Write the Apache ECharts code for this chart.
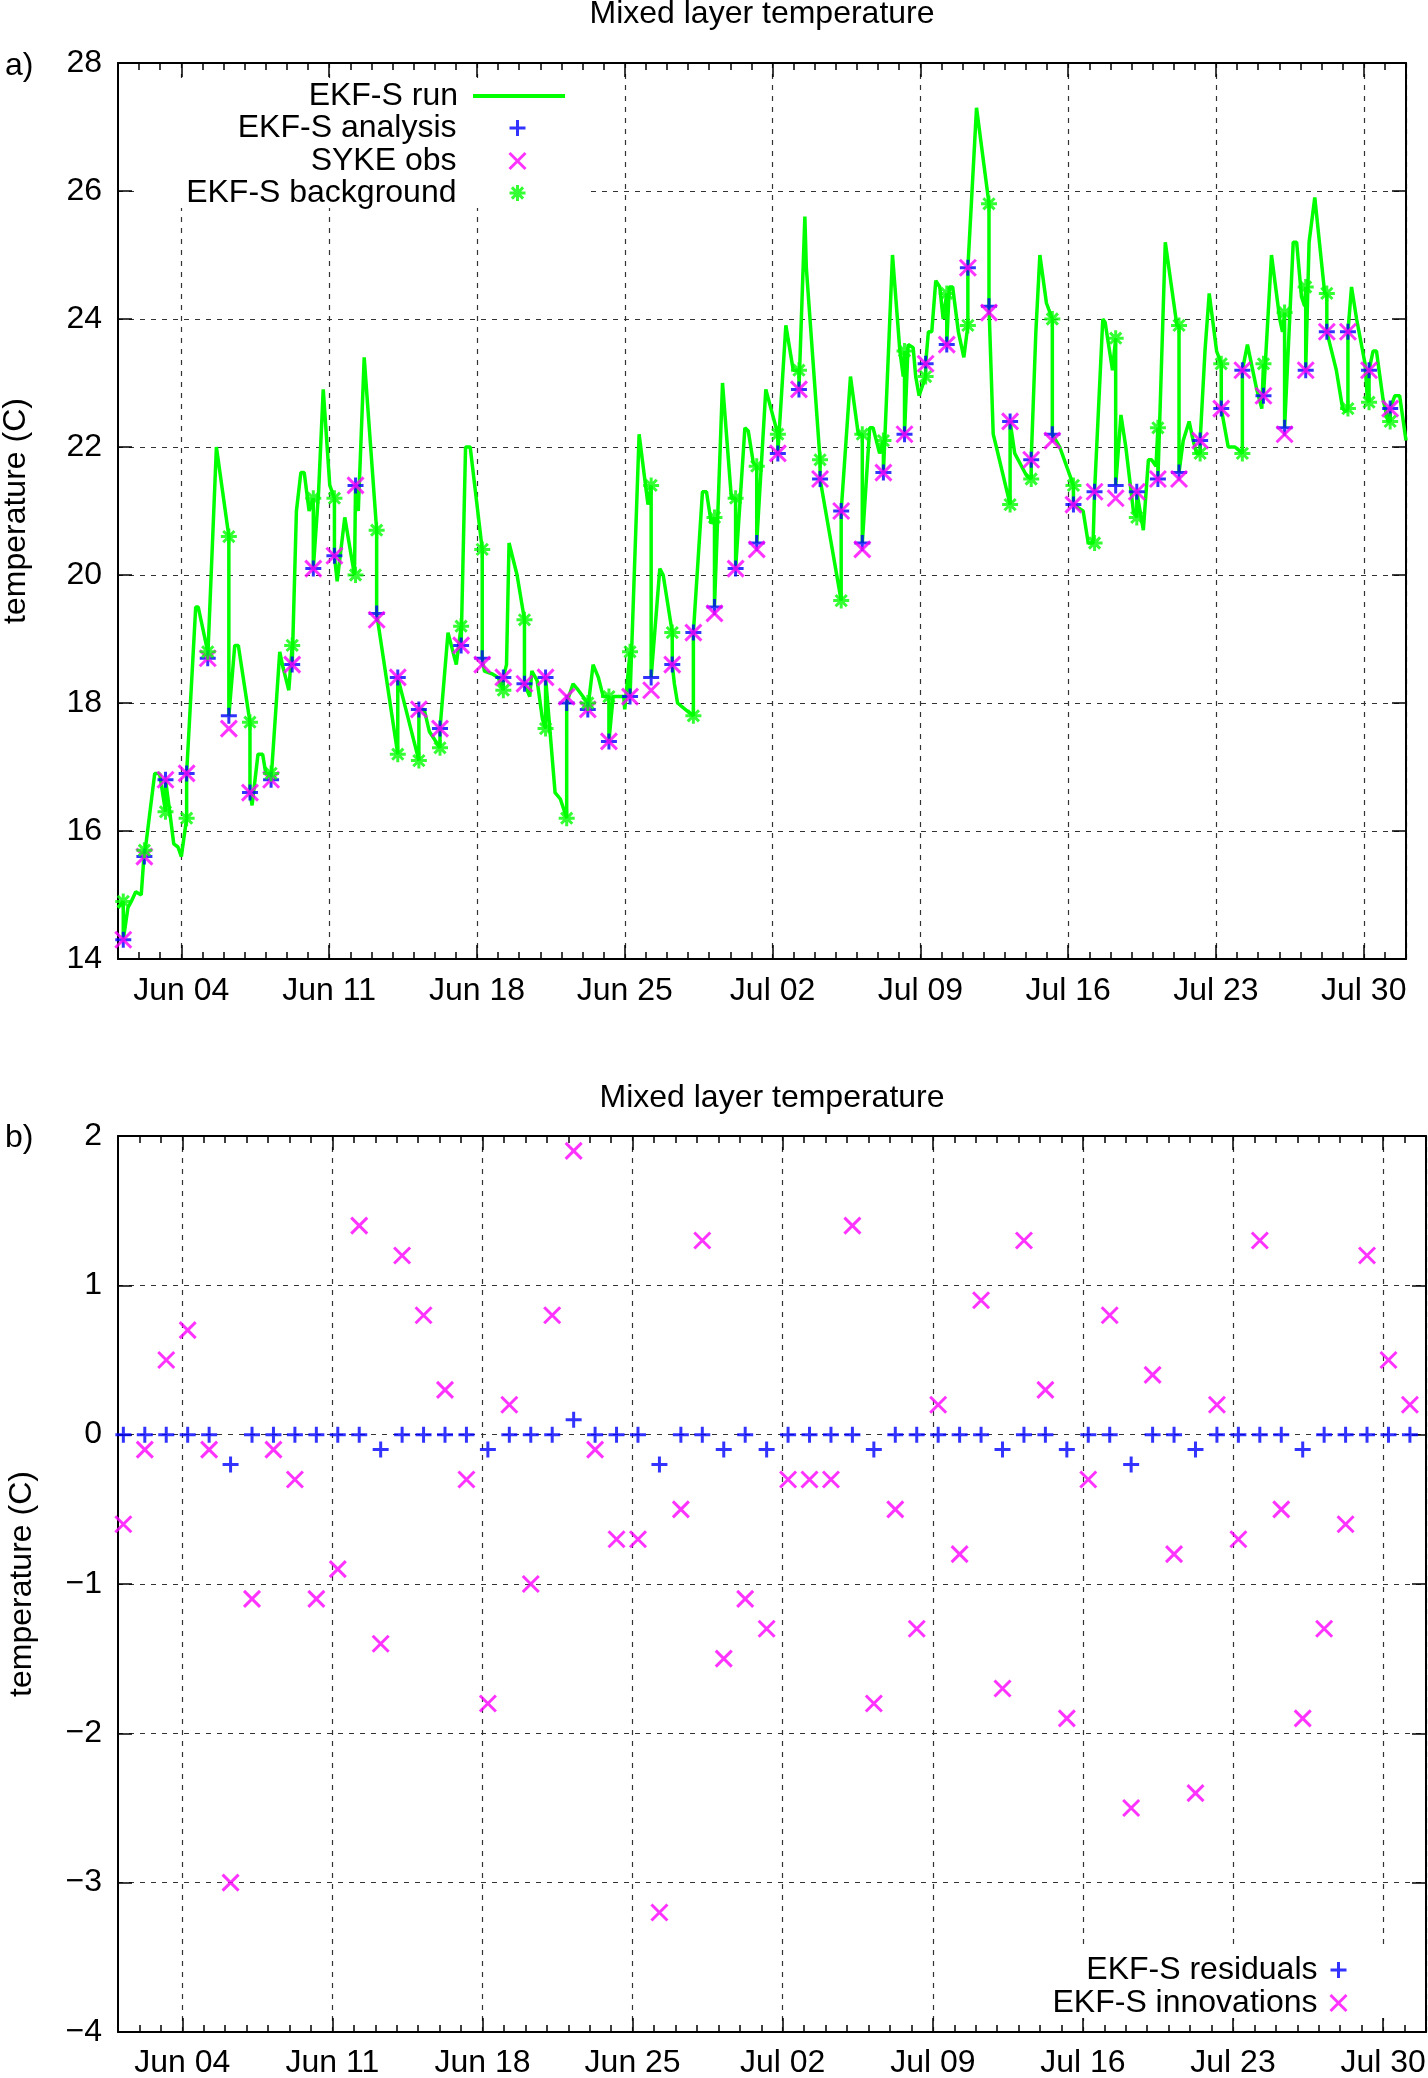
<!DOCTYPE html>
<html>
<head>
<meta charset="UTF-8">
<title>Mixed layer temperature</title>
<script type="text/javascript" src="https://cdn.jsdelivr.net/npm/echarts@6.0.0/dist/echarts.min.js"></script>
<style>
  html, body { margin: 0; padding: 0; background: #fff; }
</style>
</head>
<body>
<div id="chart" style="width:1428px;height:2078px"></div>
<script type="text/javascript">
// days counted from Jun 01 00:00
var weekLabels = ['Jun 04', 'Jun 11', 'Jun 18', 'Jun 25', 'Jul 02', 'Jul 09', 'Jul 16', 'Jul 23', 'Jul 30'];

var obsTime = [0.25, 1.25, 2.25, 3.25, 4.25, 5.25, 6.25, 7.25, 8.25, 9.25,
  10.25, 11.25, 12.25, 13.25, 14.25, 15.25, 16.25, 17.25, 18.25, 19.25,
  20.25, 21.25, 22.25, 23.25, 24.25, 25.25, 26.25, 27.25, 28.25, 29.25,
  30.25, 31.25, 32.25, 33.25, 34.25, 35.25, 36.25, 37.25, 38.25, 39.25,
  40.25, 41.25, 42.25, 43.25, 44.25, 45.25, 46.25, 47.25, 48.25, 49.25,
  50.25, 51.25, 52.25, 53.25, 54.25, 55.25, 56.25, 57.25, 58.25, 59.25, 60.25];

var obsTemp = [14.3, 15.6, 16.8, 16.9, 18.7, 17.6, 16.6, 16.8, 18.6, 20.1,
  20.3, 21.4, 19.3, 18.4, 17.9, 17.6, 18.9, 18.6, 18.4, 18.3,
  18.4, 18.1, 17.9, 17.4, 18.1, 18.2, 18.6, 19.1, 19.4, 20.1,
  20.4, 21.9, 22.9, 21.5, 21.0, 20.4, 21.6, 22.2, 23.3, 23.6,
  24.8, 24.1, 22.4, 21.8, 22.1, 21.1, 21.3, 21.2, 21.3, 21.5,
  21.5, 22.1, 22.6, 23.2, 22.8, 22.2, 23.2, 23.8, 23.8, 23.2, 22.6];

var anaTemp = [14.3, 15.6, 16.8, 16.9, 18.7, 17.8, 16.6, 16.8, 18.6, 20.1,
  20.3, 21.4, 19.4, 18.4, 17.9, 17.6, 18.9, 18.7, 18.4, 18.3,
  18.4, 18.0, 17.9, 17.4, 18.1, 18.4, 18.6, 19.1, 19.5, 20.1,
  20.5, 21.9, 22.9, 21.5, 21.0, 20.5, 21.6, 22.2, 23.3, 23.6,
  24.8, 24.2, 22.4, 21.8, 22.2, 21.1, 21.3, 21.4, 21.3, 21.5,
  21.6, 22.1, 22.6, 23.2, 22.8, 22.3, 23.2, 23.8, 23.8, 23.2, 22.6];

var bgTemp = [14.9, 15.7, 16.3, 16.2, 18.8, 20.6, 17.7, 16.9, 18.9, 21.2,
  21.2, 20.0, 20.7, 17.2, 17.1, 17.3, 19.2, 20.4, 18.2, 19.3,
  17.6, 16.2, 18.0, 18.1, 18.8, 21.4, 19.1, 17.8, 20.9, 21.2,
  21.7, 22.2, 23.2, 21.8, 19.6, 22.2, 22.1, 23.5, 23.1, 24.4,
  23.9, 25.8, 21.1, 21.5, 24.0, 21.4, 20.5, 23.7, 20.9, 22.3,
  23.9, 21.9, 23.3, 21.9, 23.3, 24.1, 24.5, 24.4, 22.6, 22.7, 22.4];

var residuals = [0, 0, 0, 0, 0, -0.2, 0, 0, 0, 0,
  0, 0, -0.1, 0, 0, 0, 0, -0.1, 0, 0,
  0, 0.1, 0, 0, 0, -0.2, 0, 0, -0.1, 0,
  -0.1, 0, 0, 0, 0, -0.1, 0, 0, 0, 0,
  0, -0.1, 0, 0, -0.1, 0, 0, -0.2, 0, 0,
  -0.1, 0, 0, 0, 0, -0.1, 0, 0, 0, 0, 0];

var innovations = [-0.6, -0.1, 0.5, 0.7, -0.1, -3.0, -1.1, -0.1, -0.3, -1.1,
  -0.9, 1.4, -1.4, 1.2, 0.8, 0.3, -0.3, -1.8, 0.2, -1.0,
  0.8, 1.9, -0.1, -0.7, -0.7, -3.2, -0.5, 1.3, -1.5, -1.1,
  -1.3, -0.3, -0.3, -0.3, 1.4, -1.8, -0.5, -1.3, 0.2, -0.8,
  0.9, -1.7, 1.3, 0.3, -1.9, -0.3, 0.8, -2.5, 0.4, -0.8,
  -2.4, 0.2, -0.7, 1.3, -0.5, -1.9, -1.3, -0.6, 1.2, 0.5, 0.2];

// model run: [day, temperature]; at each obs time background then analysis
var runPoints = [
  [0.00, 14.8], [0.25, 14.9], [0.25, 14.3], [0.47, 14.8], [0.63, 14.9], [0.84, 15.05], [1.1, 15.0],
  [1.25, 15.7], [1.25, 15.6], [1.74, 16.9], [1.97, 16.9],
  [2.25, 16.3], [2.25, 16.8], [2.45, 16.3], [2.64, 15.8], [2.84, 15.75], [3.0, 15.6],
  [3.25, 16.2], [3.25, 16.9], [3.68, 19.5], [3.8, 19.5],
  [4.25, 18.8], [4.25, 18.7], [4.66, 22.0],
  [5.25, 20.6], [5.25, 17.8], [5.53, 18.9], [5.7, 18.9],
  [6.25, 17.7], [6.25, 16.6], [6.35, 16.4], [6.63, 17.2], [6.85, 17.2], [7.0, 16.9],
  [7.25, 16.9], [7.25, 16.8], [7.66, 18.8], [7.82, 18.55], [8.09, 18.2],
  [8.25, 18.9], [8.25, 18.6], [8.45, 21.0], [8.66, 21.6], [8.82, 21.6], [9.05, 21.0],
  [9.25, 21.2], [9.25, 20.1], [9.5, 21.3], [9.72, 22.9], [10.03, 21.4],
  [10.25, 21.2], [10.25, 20.3], [10.38, 19.9], [10.74, 20.9], [11.2, 20.0],
  [11.25, 20.0], [11.25, 21.4], [11.38, 21.0], [11.66, 23.4],
  [12.25, 20.7], [12.25, 19.4],
  [13.25, 17.2], [13.25, 18.4],
  [14.25, 17.1], [14.25, 17.9], [14.5, 17.9], [14.75, 17.55],
  [15.25, 17.3], [15.25, 17.6], [15.63, 19.1], [16.02, 18.6],
  [16.25, 19.2], [16.25, 18.9], [16.46, 22.0], [16.68, 22.0],
  [17.25, 20.4], [17.25, 18.7], [17.35, 18.5], [17.75, 18.45], [18.0, 18.4],
  [18.25, 18.2], [18.25, 18.4], [18.4, 18.6], [18.52, 20.5], [18.9, 20.0],
  [19.25, 19.3], [19.25, 18.3], [19.5, 18.1], [19.6, 18.5], [19.85, 18.35], [20.1, 17.75],
  [20.25, 17.6], [20.25, 18.4], [20.35, 18.0], [20.7, 16.6], [20.95, 16.5],
  [21.25, 16.2], [21.25, 18.0], [21.55, 18.3], [21.8, 18.2],
  [22.25, 18.0], [22.25, 17.9], [22.5, 18.6], [22.75, 18.4], [22.98, 18.1],
  [23.25, 18.1], [23.25, 17.4], [23.45, 18.1], [23.95, 18.1], [24.0, 17.9],
  [24.25, 18.8], [24.25, 18.1], [24.68, 22.2], [25.1, 21.1],
  [25.25, 21.4], [25.25, 18.4], [25.66, 20.1], [25.82, 20.0],
  [26.25, 19.1], [26.25, 18.6], [26.35, 18.3], [26.5, 18.0], [27.05, 17.85],
  [27.25, 17.8], [27.25, 19.1], [27.68, 21.3], [27.87, 21.3], [28.1, 20.8],
  [28.25, 20.9], [28.25, 19.5], [28.63, 23.0], [29.05, 21.2],
  [29.25, 21.2], [29.25, 20.1], [29.69, 22.3], [29.85, 22.25], [30.09, 21.75],
  [30.25, 21.7], [30.25, 20.5], [30.68, 22.9],
  [31.25, 22.2], [31.25, 21.9], [31.63, 23.9], [31.98, 23.2],
  [32.25, 23.2], [32.25, 22.9], [32.53, 25.6], [32.6, 24.8],
  [33.25, 21.8], [33.25, 21.5],
  [34.25, 19.6], [34.25, 21.0], [34.69, 23.1], [35.06, 22.2],
  [35.25, 22.2], [35.25, 20.5], [35.6, 22.3], [35.76, 22.3], [36.07, 21.9],
  [36.25, 22.1], [36.25, 21.6], [36.68, 25.0], [37.03, 23.5], [37.19, 23.1],
  [37.25, 23.5], [37.25, 22.2], [37.42, 23.6], [37.66, 23.55], [37.78, 23.1], [37.94, 22.8],
  [38.25, 23.1], [38.25, 23.3], [38.38, 23.8], [38.54, 23.8], [38.73, 24.6], [38.92, 24.5], [39.08, 24.0],
  [39.25, 24.4], [39.25, 23.6], [39.37, 24.5], [39.53, 24.5], [39.8, 23.8], [40.06, 23.4],
  [40.25, 23.9], [40.25, 24.8], [40.66, 27.3],
  [41.25, 25.8], [41.25, 24.2], [41.45, 22.2], [41.6, 22.0],
  [42.25, 21.1], [42.25, 22.4], [42.47, 21.9], [43.03, 21.55],
  [43.25, 21.5], [43.25, 21.8], [43.47, 23.8], [43.66, 25.0], [43.97, 24.25],
  [44.25, 24.0], [44.25, 22.2], [44.6, 22.0],
  [45.25, 21.4], [45.25, 21.1], [45.71, 21.0], [45.95, 20.5], [46.18, 20.5],
  [46.25, 20.5], [46.25, 21.3], [46.64, 24.0], [46.75, 23.95], [47.1, 23.2],
  [47.25, 23.7], [47.25, 21.4], [47.5, 22.5], [47.73, 22.0], [48.09, 21.0],
  [48.25, 20.9], [48.25, 21.3], [48.56, 20.7], [48.8, 21.8], [48.95, 21.8], [49.16, 21.7],
  [49.25, 22.3], [49.25, 21.5], [49.6, 25.2], [50.15, 23.9],
  [50.25, 23.9], [50.25, 21.6], [50.45, 22.1], [50.73, 22.4], [50.92, 22.1], [51.08, 21.9],
  [51.25, 21.9], [51.25, 22.1], [51.48, 23.5], [51.68, 24.4], [52.03, 23.5],
  [52.25, 23.3], [52.25, 22.6], [52.58, 22.0], [52.9, 22.0],
  [53.25, 21.9], [53.25, 23.2], [53.49, 23.6], [53.93, 22.9], [54.17, 22.6],
  [54.25, 23.3], [54.25, 22.8], [54.63, 25.0], [55.02, 24.0], [55.15, 23.8],
  [55.25, 24.1], [55.25, 22.3], [55.66, 25.2], [55.82, 25.2], [56.05, 24.35], [56.2, 24.2],
  [56.25, 24.5], [56.25, 23.2], [56.41, 25.2], [56.68, 25.9], [57.15, 24.4],
  [57.25, 24.4], [57.25, 23.8], [57.7, 23.2], [58.0, 22.6], [58.15, 22.55],
  [58.25, 22.6], [58.25, 23.8], [58.42, 24.5], [58.66, 24.0], [59.06, 23.3], [59.17, 22.75],
  [59.25, 22.7], [59.25, 23.2], [59.44, 23.5], [59.6, 23.5], [59.91, 22.75], [60.15, 22.4],
  [60.25, 22.4], [60.25, 22.6], [60.47, 22.8], [60.7, 22.8], [61.0, 22.1]
];

function pairs(xs, ys) {
  var out = [];
  for (var i = 0; i < xs.length; i++) out.push([xs[i], ys[i]]);
  return out;
}

var FONT = "'Liberation Sans', Arial, sans-serif";
var plusPath = 'path://M5,0L5,10M0,5L10,5';
var crossPath = 'path://M0,0L10,10M10,0L0,10';
var starPath = 'path://M5,0L5,10M0,5L10,5M1.5,1.5L8.5,8.5M8.5,1.5L1.5,8.5';
var gridDash = { color: '#333', width: 1.2, type: [5, 6] };

function weekLabel(v) {
  var idx = Math.round((v - 3) / 7);
  if (Math.abs(v - (3 + 7 * idx)) < 1e-6 && idx >= 0 && idx < weekLabels.length) return weekLabels[idx];
  return '';
}

// daily minor-tick axis (data axis)
function dayAxis(grid, pos) {
  return {
    type: 'value', gridIndex: grid, position: pos, min: 0, max: 61, interval: 1,
    axisLine: { show: true, onZero: false, lineStyle: { color: '#000', width: 2 } },
    axisTick: { show: true, inside: true, length: 7, lineStyle: { color: '#000', width: 1.5 } },
    axisLabel: { show: false }, splitLine: { show: false }
  };
}
// weekly major-tick axis, on a grid that starts at Jun 04
function weekAxis(grid, pos, labels, margin) {
  return {
    type: 'value', gridIndex: grid, position: pos, min: 3, max: 61, interval: 7,
    axisLine: { show: false, onZero: false },
    axisTick: { show: true, inside: true, length: 14, lineStyle: { color: '#000', width: 1.5 } },
    axisLabel: { show: labels, margin: margin, fontSize: 32, color: '#000', fontFamily: FONT,
      showMinLabel: true, showMaxLabel: false, formatter: weekLabel },
    splitLine: { show: labels, lineStyle: gridDash }
  };
}
function tempAxis(grid, pos, min, max, main, gap) {
  return {
    type: 'value', gridIndex: grid, position: pos, min: min, max: max, interval: (max - min > 6 ? 2 : 1),
    name: main ? 'temperature (C)' : '', nameLocation: 'middle', nameGap: gap, nameRotate: 90,
    nameTextStyle: { fontSize: 32, color: '#000', fontFamily: FONT },
    axisLine: { show: true, onZero: false, lineStyle: { color: '#000', width: 2 } },
    axisTick: { show: true, inside: true, length: 14, lineStyle: { color: '#000', width: 1.5 } },
    axisLabel: { show: main, margin: 16, fontSize: 32, color: '#000', fontFamily: FONT,
      formatter: function (v) { return String(v).replace('-', '\u2212'); } },
    splitLine: { show: main, lineStyle: gridDash }
  };
}
function hiddenY(grid, min, max) {
  return { type: 'value', gridIndex: grid, min: min, max: max, show: false };
}
function legendItem(name, right, top, w, h, gap, extra) {
  var lg = {
    data: [name], orient: 'vertical', align: 'right', right: right, top: top, padding: 0,
    itemWidth: w, itemHeight: h, selectedMode: false,
    itemStyle: { borderWidth: 3 },
    textStyle: { fontSize: 32, color: '#000', fontFamily: FONT, padding: [0, gap, 0, 0] }
  };
  if (extra) for (var k in extra) lg[k] = extra[k];
  return lg;
}

var chart = echarts.init(document.getElementById('chart'), null, { renderer: 'canvas' });

var gridBase = { containLabel: false, outerBoundsMode: 'none' };
function grid(o) { var g = {}; for (var k in gridBase) g[k] = gridBase[k]; for (var j in o) g[j] = o[j]; return g; }

var option = {
  animation: false,
  backgroundColor: '#fff',
  title: [
    { text: 'Mixed layer temperature', left: 762, top: -2, textAlign: 'center', padding: 0,
      textStyle: { fontSize: 32, fontWeight: 'normal', color: '#000', fontFamily: FONT } },
    { text: 'Mixed layer temperature', left: 772, top: 1082, textAlign: 'center', padding: 0,
      textStyle: { fontSize: 32, fontWeight: 'normal', color: '#000', fontFamily: FONT } },
    { text: 'a)', left: 5, top: 50, padding: 0,
      textStyle: { fontSize: 32, fontWeight: 'normal', color: '#000', fontFamily: FONT } },
    { text: 'b)', left: 5, top: 1122, padding: 0,
      textStyle: { fontSize: 32, fontWeight: 'normal', color: '#000', fontFamily: FONT } }
  ],
  grid: [
    grid({ left: 118, right: 22, top: 63, height: 896 }),
    grid({ left: 181.34, right: 22, top: 63, height: 896 }),
    grid({ left: 118, right: 2, top: 1136, height: 896 }),
    grid({ left: 182.33, right: 2, top: 1136, height: 896 })
  ],
  xAxis: [
    dayAxis(0, 'bottom'), dayAxis(0, 'top'),
    weekAxis(1, 'bottom', true, 16), weekAxis(1, 'top', false, 0),
    dayAxis(2, 'bottom'), dayAxis(2, 'top'),
    weekAxis(3, 'bottom', true, 15), weekAxis(3, 'top', false, 0)
  ],
  yAxis: [
    tempAxis(0, 'left', 14, 28, true, 86), tempAxis(0, 'right', 14, 28, false, 0), hiddenY(1, 14, 28),
    tempAxis(2, 'left', -4, 2, true, 80), tempAxis(2, 'right', -4, 2, false, 0), hiddenY(3, -4, 2)
  ],
  legend: [
    legendItem('EKF-S run', 863, 80, 92, 4, 10, { icon: 'rect', itemStyle: { borderWidth: 0 } }),
    legendItem('EKF-S analysis', 901, 112, 16, 16, 48),
    legendItem('SYKE obs', 901, 145, 16, 16, 48),
    legendItem('EKF-S background', 901, 177, 16, 16, 48),
    legendItem('EKF-S residuals', 80, 1954, 16, 16, 8),
    legendItem('EKF-S innovations', 80, 1987, 16, 16, 8)
  ],
  graphic: [
    { type: 'rect', z: 1, shape: { x: 135, y: 78, width: 450, height: 130 }, style: { fill: '#fff' } },
    { type: 'rect', z: 1, shape: { x: 1030, y: 1948, width: 382, height: 70 }, style: { fill: '#fff' } }
  ],
  series: [
    { name: 'EKF-S run', type: 'line', xAxisIndex: 0, yAxisIndex: 0, data: runPoints,
      symbol: 'none', showSymbol: false, lineStyle: { color: '#00ff00', width: 3.5 },
      itemStyle: { color: '#00ff00' }, z: 2 },
    { name: 'EKF-S analysis', type: 'scatter', xAxisIndex: 0, yAxisIndex: 0, data: pairs(obsTime, anaTemp),
      symbol: plusPath, symbolSize: 16,
      itemStyle: { color: 'rgba(0,0,0,0)', borderColor: '#0000ff', borderWidth: 3 }, z: 3 },
    { name: 'SYKE obs', type: 'scatter', xAxisIndex: 0, yAxisIndex: 0, data: pairs(obsTime, obsTemp),
      symbol: crossPath, symbolSize: 16,
      itemStyle: { color: 'rgba(0,0,0,0)', borderColor: '#ff00ff', borderWidth: 3 }, z: 3 },
    { name: 'EKF-S background', type: 'scatter', xAxisIndex: 0, yAxisIndex: 0, data: pairs(obsTime, bgTemp),
      symbol: starPath, symbolSize: 16,
      itemStyle: { color: 'rgba(0,0,0,0)', borderColor: '#00ff00', borderWidth: 3 }, z: 3 },
    { name: 'EKF-S residuals', type: 'scatter', xAxisIndex: 4, yAxisIndex: 3, data: pairs(obsTime, residuals),
      symbol: plusPath, symbolSize: 16,
      itemStyle: { color: 'rgba(0,0,0,0)', borderColor: '#0000ff', borderWidth: 3 }, z: 3 },
    { name: 'EKF-S innovations', type: 'scatter', xAxisIndex: 4, yAxisIndex: 3, data: pairs(obsTime, innovations),
      symbol: crossPath, symbolSize: 16,
      itemStyle: { color: 'rgba(0,0,0,0)', borderColor: '#ff00ff', borderWidth: 3 }, z: 3 }
  ]
};
chart.setOption(option);
</script>
</body>
</html>
